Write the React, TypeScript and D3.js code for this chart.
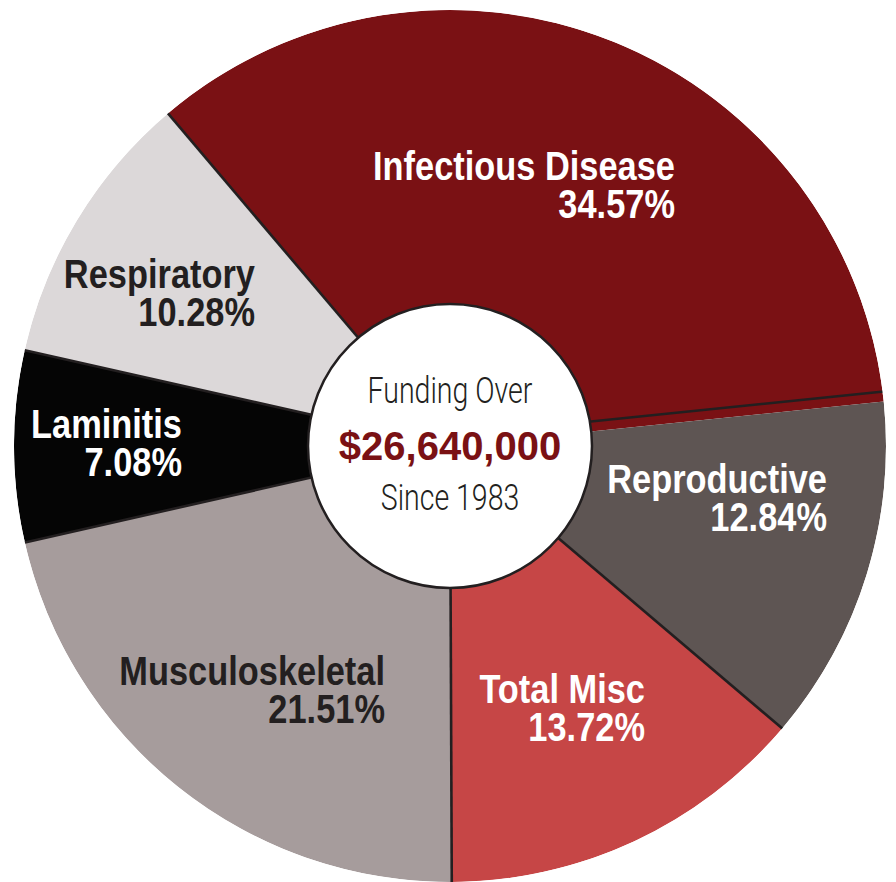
import React, { useEffect, useRef } from 'react';
import * as d3 from 'd3';

const categories = ['Infectious Disease', 'Reproductive', 'Total Misc', 'Musculoskeletal', 'Laminitis', 'Respiratory'];
const shares = [34.57, 12.84, 13.72, 21.51, 7.08, 10.28];
const colors = ['#7a1114', '#5e5553', '#c64646', '#a69c9c', '#050505', '#dcd8d9'];
const labelColors = ['#ffffff', '#ffffff', '#ffffff', '#231f20', '#ffffff', '#231f20'];
const centerLines = ['Funding Over', '$26,640,000', 'Since 1983'];

// label anchors (right edge, first baseline) relative to pie centre
const labelOffsets: [number, number][] = [
  [225, -266], [377, 47], [195, 257], [-65, 239], [-268, -8], [-195, -158],
];
// the Infectious / Reproductive divider sits a bit off the true edge
const dividerShift = [0, 10, 0, 0, 0, 0];

const W = 896;
const H = 882;
const cx = 450;
const cy = 446;
const R = 436;
const r0 = 142;

const App = () => {
  const ref = useRef<SVGSVGElement>(null);

  useEffect(() => {
    document.body.style.margin = '0';
    document.body.style.overflow = 'hidden';
    const svg = d3.select(ref.current);
    svg.selectAll('*').remove();

    const g = svg.append('g').attr('transform', `translate(${cx},${cy})`);

    const pie = d3.pie<number>()
      .sort(null)
      .value(d => d)
      .startAngle(-40.3 * Math.PI / 180)
      .endAngle((360 - 40.3) * Math.PI / 180);
    const arcs = pie(shares);
    const arc = d3.arc<d3.PieArcDatum<number>>().innerRadius(0).outerRadius(R);

    g.selectAll('path.slice')
      .data(arcs)
      .enter()
      .append('path')
      .attr('class', 'slice')
      .attr('d', arc)
      .attr('fill', (d, i) => colors[i]);

    // radial dividers at each slice start
    arcs.forEach((a, i) => {
      const t = a.startAngle;
      const dx = Math.sin(t);
      const dy = -Math.cos(t);
      const s = dividerShift[i];
      const px = dy * s;
      const py = -dx * s;
      g.append('line')
        .attr('x1', px)
        .attr('y1', py)
        .attr('x2', dx * (R + 1) + px)
        .attr('y2', dy * (R + 1) + py)
        .attr('stroke', '#231f20')
        .attr('stroke-width', 2.6);
    });

    // trim the dividers back to the pie outline
    g.append('path')
      .attr('d', `M-2000,-2000H2000V2000H-2000Z M${R},0A${R},${R} 0 1,0 ${-R},0A${R},${R} 0 1,0 ${R},0Z`)
      .attr('fill', '#ffffff')
      .attr('fill-rule', 'evenodd');

    g.append('circle')
      .attr('r', r0)
      .attr('fill', '#ffffff')
      .attr('stroke', '#231f20')
      .attr('stroke-width', 2.5);

    const boldFont = '"Liberation Sans", Arial, sans-serif';

    arcs.forEach((a, i) => {
      const [ox, oy] = labelOffsets[i];
      const t = g.append('text')
        .attr('transform', `translate(${ox},${oy}) scale(0.86,1)`)
        .attr('text-anchor', 'end')
        .attr('font-family', boldFont)
        .attr('font-weight', 700)
        .attr('font-size', 40)
        .attr('fill', labelColors[i]);
      t.append('tspan').attr('x', 0).attr('y', 0).text(categories[i]);
      t.append('tspan').attr('x', 0).attr('y', 38).text(`${shares[i].toFixed(2)}%`);
    });

    const c = g.append('g');
    c.append('text')
      .attr('transform', 'translate(0,-43) scale(0.77,1)')
      .attr('text-anchor', 'middle')
      .attr('font-family', 'Roboto, "Liberation Sans", sans-serif')
      .attr('font-weight', 300)
      .attr('font-size', 37)
      .attr('fill', '#231f20')
      .text(centerLines[0]);
    c.append('text')
      .attr('transform', 'translate(0,14)')
      .attr('text-anchor', 'middle')
      .attr('font-family', boldFont)
      .attr('font-weight', 700)
      .attr('font-size', 40)
      .attr('fill', '#7a1114')
      .text(centerLines[1]);
    c.append('text')
      .attr('transform', 'translate(0,64) scale(0.77,1)')
      .attr('text-anchor', 'middle')
      .attr('font-family', 'Roboto, "Liberation Sans", sans-serif')
      .attr('font-weight', 300)
      .attr('font-size', 37)
      .attr('fill', '#231f20')
      .text(centerLines[2]);
  }, []);

  return <svg ref={ref} width={W} height={H} style={{ display: 'block', background: '#ffffff' }} />;
};

export default App;
